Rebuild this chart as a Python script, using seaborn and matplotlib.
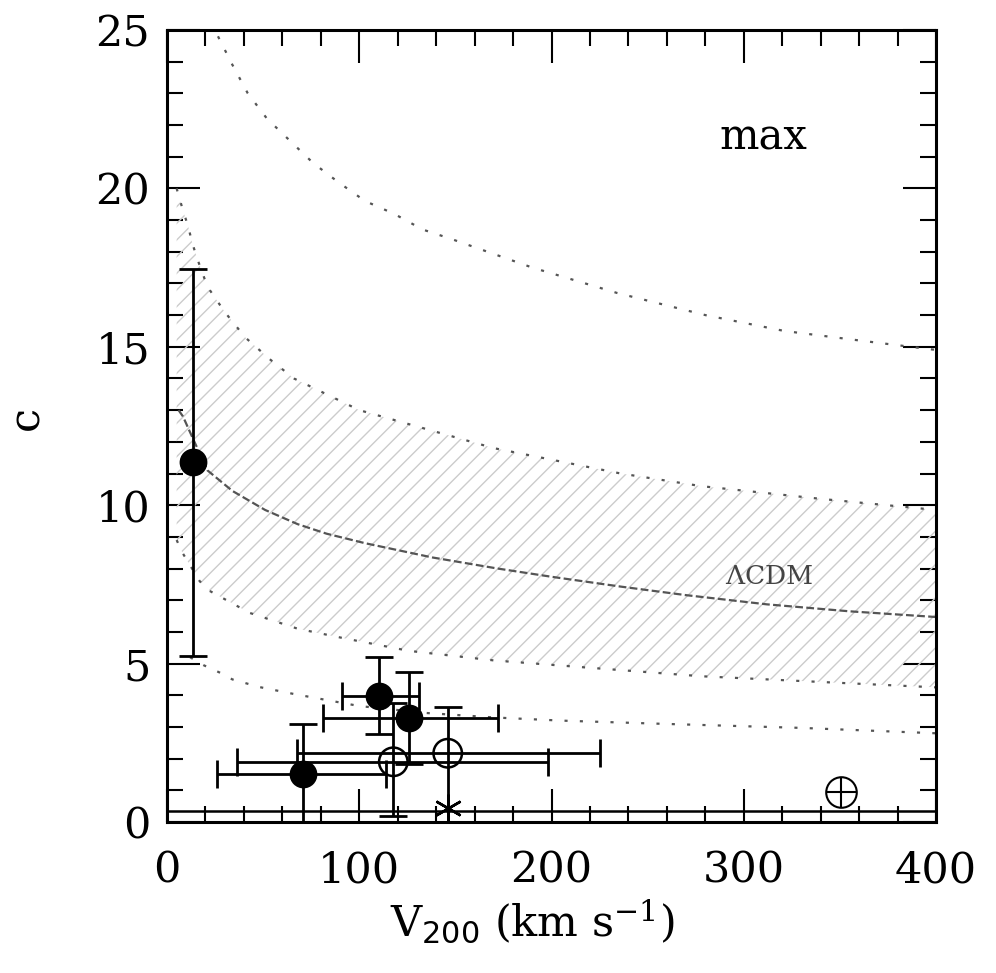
import matplotlib
matplotlib.use("Agg")
import matplotlib.pyplot as plt
import seaborn as sns
import numpy as np
import pandas as pd
from matplotlib.ticker import MultipleLocator

# model curves (V200 in km/s, concentration c)
V_upper_outer = [26.5, 34, 42, 52, 64, 76, 89, 103, 118, 133, 148, 190, 234, 280, 321, 360, 400]
c_upper_outer = [24.8, 23.9, 23.0, 22.2, 21.5, 20.8, 20.2, 19.6, 19.2, 18.7, 18.4, 17.5, 16.7, 16.0, 15.5, 15.2, 14.9]

V_upper = [5, 8.3, 11, 13, 15.6, 21, 30, 40.6, 53.6, 66, 100, 135, 170, 236, 278, 340, 400]
c_upper = [20.0, 19.3, 18.8, 18.3, 17.8, 16.9, 16.1, 15.3, 14.6, 14.0, 13.0, 12.4, 11.8, 11.0, 10.6, 10.2, 9.85]

V_median = [6, 8.3, 12, 21, 34, 51, 68, 83, 103, 138, 172, 200, 236, 270, 312, 355, 400]
c_median = [13.0, 12.8, 12.3, 11.1, 10.45, 9.85, 9.4, 9.1, 8.8, 8.35, 8.0, 7.74, 7.43, 7.16, 6.87, 6.65, 6.47]

V_lower = [5, 8, 13, 17, 22, 43, 68, 92, 126, 170, 213, 278, 347, 400]
c_lower = [8.9, 8.5, 8.0, 7.6, 7.3, 6.6, 6.1, 5.8, 5.4, 5.1, 4.9, 4.6, 4.4, 4.25]

V_lower_outer = [12, 19, 28, 34, 48, 66, 83, 100, 135, 170, 205, 257, 330, 400]
c_lower_outer = [5.2, 4.95, 4.7, 4.5, 4.26, 4.04, 3.85, 3.66, 3.44, 3.3, 3.2, 3.1, 2.97, 2.8]

# galaxies: filled circles
filled_V = [13.5, 110, 126, 70.5]
filled_c = [11.35, 3.97, 3.28, 1.51]
filled_V_lo = [13.5, 91, 81, 26]
filled_V_hi = [13.5, 131, 172, 114]
filled_c_lo = [5.25, 2.78, 1.83, 0.0]
filled_c_hi = [17.45, 5.2, 4.73, 3.1]

# open circles
open_V = [117.7, 146]
open_c = [1.9, 2.17]
open_V_lo = [36.5, 67.6]
open_V_hi = [198, 225]
open_c_lo = [0.2, 0.0]
open_c_hi = [3.75, 3.63]

star_V, star_c = [146], [0.45]
earth_V, earth_c = [350.5], [0.95]
floor_c = 0.35

sns.set_theme(style="ticks")
plt.rcParams["font.family"] = ["DejaVu Serif"]
plt.rcParams["mathtext.fontset"] = "dejavuserif"
plt.rcParams["hatch.linewidth"] = 1.0
for key in ["text.color", "axes.labelcolor", "xtick.color", "ytick.color"]:
    plt.rcParams[key] = "black"

fig = plt.figure(figsize=(9.96, 9.73), dpi=100)
ax = fig.add_axes([0.1677, 0.1552, 0.7721, 0.8140])

# shaded band between the inner dotted curves
band_x = np.concatenate([V_upper, V_lower[::-1]])
band_y = np.concatenate([c_upper, c_lower[::-1]])
ax.fill(band_x, band_y, facecolor="none", edgecolor="#cccccc", hatch="//", linewidth=0, zorder=1)

dotted = (0, (1.4, 5.5))
for xs, ys in [(V_upper_outer, c_upper_outer), (V_upper, c_upper),
               (V_lower, c_lower), (V_lower_outer, c_lower_outer)]:
    sns.lineplot(x=xs, y=ys, ax=ax, sort=False, estimator=None, color="#555555",
                 linewidth=1.6, linestyle=dotted, zorder=2)
sns.lineplot(x=V_median, y=c_median, ax=ax, sort=False, estimator=None, color="#555555",
             linewidth=1.6, linestyle=(0, (3.5, 1.5)), zorder=2)

ax.axhline(floor_c, color="black", lw=1.8, zorder=2)

def draw_errors(V, c, Vlo, Vhi, clo, chi):
    for i in range(len(V)):
        yerr = [[c[i] - clo[i]], [chi[i] - c[i]]]
        ax.errorbar(V[i], c[i], yerr=yerr, fmt="none", ecolor="black",
                    elinewidth=2, capsize=10, capthick=2, zorder=3)
        if Vhi[i] > Vlo[i]:
            xerr = [[V[i] - Vlo[i]], [Vhi[i] - V[i]]]
            ax.errorbar(V[i], c[i], xerr=xerr, fmt="none", ecolor="black",
                        elinewidth=2, capsize=10, capthick=2, zorder=3)

draw_errors(filled_V, filled_c, filled_V_lo, filled_V_hi, filled_c_lo, filled_c_hi)
draw_errors(open_V, open_c, open_V_lo, open_V_hi, open_c_lo, open_c_hi)

pts = pd.DataFrame({"V": filled_V, "c": filled_c})
sns.scatterplot(data=pts, x="V", y="c", ax=ax, s=400, color="black",
                edgecolor="black", linewidth=0, zorder=4)
opts = pd.DataFrame({"V": open_V, "c": open_c})
sns.scatterplot(data=opts, x="V", y="c", ax=ax, s=420, facecolor="none",
                edgecolor="black", linewidth=1.8, zorder=4)

ax.plot(star_V, star_c, marker=(6, 2, 0), ms=20, mew=1.8, color="black",
        linestyle="none", zorder=4)
ax.plot(earth_V, earth_c, marker="o", ms=22, mfc="none", mec="black", mew=1.5,
        linestyle="none", zorder=4)
ax.plot(earth_V, earth_c, marker="+", ms=22, mec="black", mew=1.5,
        linestyle="none", zorder=4)

ax.text(310, 21.6, "max", fontsize=30, ha="center", va="center")
ax.text(313, 7.75, r"$\Lambda$CDM", fontsize=19, color="#444444", ha="center", va="center")

ax.set_xlim(0, 400)
ax.set_ylim(0, 25)
ax.xaxis.set_major_locator(MultipleLocator(100))
ax.xaxis.set_minor_locator(MultipleLocator(20))
ax.yaxis.set_major_locator(MultipleLocator(5))
ax.yaxis.set_minor_locator(MultipleLocator(1))
ax.tick_params(which="both", direction="in", top=True, right=True, width=1.5, color="black")
ax.tick_params(which="major", length=24, labelsize=31)
ax.tick_params(which="minor", length=11.5)
ax.tick_params(axis="x", which="major", pad=20)
ax.tick_params(axis="y", which="major", pad=12)
for sp in ax.spines.values():
    sp.set_linewidth(2.2)
    sp.set_color("black")

ax.set_xlabel(r"V$_{\mathsf{200}}$ (km s$^{-1}$)", fontsize=31)
ax.set_ylabel("c", fontsize=31)
ax.xaxis.set_label_coords(0.475, -0.095)
ax.yaxis.set_label_coords(-0.156, 0.51)

fig.savefig("out.png", dpi=100)
